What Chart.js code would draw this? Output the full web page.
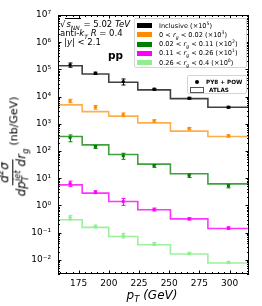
<!DOCTYPE html>
<html>
<head>
<meta charset="utf-8">
<script src="https://cdn.jsdelivr.net/npm/chart.js@4/dist/chart.umd.min.js"></script>
<style>
  body { margin: 0; background: #fff; }
  #wrap { position: relative; width: 262px; height: 306px; font-family: "DejaVu Sans", sans-serif; color: #000; }
  #c { position: absolute; left: 0; top: 0; }
  .txt { position: absolute; white-space: nowrap; }
  .info { left: 60px; font-size: 8.5px; line-height: 9px; }
  .sqrt { border-top: 0.8px solid #000; padding: 0 1px; }
  sub, sup { font-size: 70%; line-height: 0; }
  .leg { position: absolute; border: 0.8px solid #d4d4d4; border-radius: 2px; background: rgba(255,255,255,0.8); box-sizing: border-box; }
  .row { position: absolute; left: 0; display: flex; align-items: center; font-size: 6.6px; white-space: nowrap; }
  .patch { display: inline-block; width: 15px; height: 5px; margin-right: 7px; margin-left: 2px; }
  .ss { display: inline-flex; flex-direction: column; vertical-align: middle; font-size: 70%; line-height: 1; }
  #ytitle { position: absolute; left: 14px; top: 147px; transform: translate(-50%, -50%) rotate(-90deg); display: flex; align-items: center; white-space: nowrap; font-size: 11px; }
  .frac { display: inline-flex; flex-direction: column; align-items: center; font-style: italic; font-size: 12px; margin-right: 2px; }
  .frac .num { border-bottom: 0.8px solid #000; padding: 0 3px 1px; line-height: 1.05; }
  .frac .den { line-height: 1.2; padding: 0 1px; }
</style>
</head>
<body>
<div id="wrap">
  <canvas id="c" width="262" height="306"></canvas>

  <div class="txt info" style="top:20px">√<span class="sqrt"><i>s</i><sub><i>NN</i></sub></span> = 5.02 <i>TeV</i></div>
  <div class="txt info" style="top:29px">anti-<i>k</i><sub><i>T</i></sub> <i>R</i> = 0.4</div>
  <div class="txt info" style="top:38px;left:64px">|<i>y</i>| &lt; 2.1</div>
  <div class="txt" style="left:108px;top:49px;font-weight:bold;font-size:10.5px">pp</div>

  <div class="leg" id="leg1" style="left:134px;top:18px;width:113px;height:50px"></div>
  <div class="leg" style="left:187px;top:75px;width:60px;height:19px">
    <div class="row" style="top:2px;height:7px;font-weight:bold;font-size:5.7px"><span style="display:inline-block;width:4px;height:4px;border-radius:50%;background:#000;margin:0 7px 0 7px"></span>PY8 + POW</div>
    <div class="row" style="top:10px;height:7px;font-weight:bold;font-size:5.7px"><span style="display:inline-block;width:12px;height:4px;border:0.8px solid #555;margin:0 5px 0 2px"></span>ATLAS</div>
  </div>

  <div id="ytitle">
    <span class="frac">
      <span class="num">d<sup>2</sup>σ</span>
      <span class="den">dp<span class="ss"><span>jet</span><span>T</span></span> dr<sub>g</sub></span>
    </span>
    <span>(nb/GeV)</span>
  </div>
  <div class="txt" style="left:152px;top:294.5px;transform:translate(-50%,-50%);font-size:12px;font-style:italic">p<sub>T</sub> (GeV)</div>
</div>

<script>
// bin edges and centres in pT (GeV)
const ptEdges = [158, 178, 200, 224, 251, 282, 316];
const ptCenters = [168, 189, 212, 237.5, 266.5, 299];

// axis ticks
const xTicks = [175, 200, 225, 250, 275, 300];
const xMinorStep = 5;
const yTickExps = [-2, -1, 0, 1, 2, 3, 4, 5, 6, 7];
const yMin = 0.003, yMax = 1e7;

// legend / series names
const seriesNames = [
  'Inclusive (×10<sup>5</sup>)',
  '0 &lt; <i>r<sub>g</sub></i> &lt; 0.02 (×10<sup>3</sup>)',
  '0.02 &lt; <i>r<sub>g</sub></i> &lt; 0.11 (×10<sup>2</sup>)',
  '0.11 &lt; <i>r<sub>g</sub></i> &lt; 0.26 (×10<sup>1</sup>)',
  '0.26 &lt; <i>r<sub>g</sub></i> &lt; 0.4 (×10<sup>0</sup>)'
];
const seriesColors = ['#000000', '#ff8c00', '#008000', '#ff00ff', '#90ee90'];
const lineColors = ['rgba(0,0,0,0.75)', 'rgba(255,140,0,0.7)', 'rgba(0,128,0,0.75)', 'rgba(255,0,255,0.8)', 'rgba(144,238,144,0.9)'];

// ATLAS histograms (already scaled)
const atlasIncl = [1.37e5, 6.8e4, 3.37e4, 1.76e4, 8.4e3, 4.07e3];
const atlasRg1 = [4950, 2810, 1910, 1080, 536, 340];
const atlasRg2 = [340, 168, 74, 32.9, 14.5, 6.2];
const atlasRg3 = [5.7, 2.83, 1.39, 0.69, 0.32, 0.142];
const atlasRg4 = [0.296, 0.155, 0.072, 0.0357, 0.0163, 0.0076];

// PY8 + POW points (already scaled)
const pyIncl = [1.46e5, 7.2e4, 3.56e4, 1.87e4, 8.7e3, 4.07e3];
const pyRg1 = [6950, 4070, 2180, 1280, 667, 360];
const pyRg2 = [304, 142, 66, 28.5, 12.5, 5.2];
const pyRg3 = [6.4, 3.08, 1.39, 0.71, 0.32, 0.147];
const pyRg4 = [0.36, 0.168, 0.0785, 0.038, 0.0171, 0.008];

// relative errors of the points
const errIncl = [0.18, 0.10, 0.25, 0.08, 0.08, 0.08];
const errRg1 = [0.15, 0.15, 0.15, 0.10, 0.10, 0.10];
const errRg2 = [0.28, 0.12, 0.25, 0.12, 0.15, 0.15];
const errRg3 = [0.22, 0.12, 0.28, 0.12, 0.10, 0.10];
const errRg4 = [0.20, 0.12, 0.20, 0.12, 0.10, 0.10];

const atlasAll = [atlasIncl, atlasRg1, atlasRg2, atlasRg3, atlasRg4];
const pyAll = [pyIncl, pyRg1, pyRg2, pyRg3, pyRg4];
const errAll = [errIncl, errRg1, errRg2, errRg3, errRg4];

// legend
const leg1 = document.getElementById('leg1');
seriesNames.forEach((name, i) => {
  const row = document.createElement('div');
  row.className = 'row';
  row.style.top = (3 + i * 9.3) + 'px';
  row.style.height = '7px';
  row.innerHTML = `<span class="patch" style="background:${seriesColors[i]}"></span><span>${name}</span>`;
  leg1.appendChild(row);
});

const datasets = [];
atlasAll.forEach((vals, i) => {
  datasets.push({
    type: 'line',
    data: ptEdges.map((x, k) => ({ x, y: vals[Math.min(k, vals.length - 1)] })),
    stepped: 'before',
    borderColor: lineColors[i],
    borderWidth: 1.6,
    pointRadius: 0,
    fill: false,
    order: 2
  });
});
pyAll.forEach((vals, i) => {
  datasets.push({
    type: 'scatter',
    data: ptCenters.map((x, k) => ({ x, y: vals[k] })),
    backgroundColor: seriesColors[i],
    borderColor: seriesColors[i],
    pointRadius: 1.7,
    borderWidth: 0,
    errs: errAll[i],
    order: 1
  });
});

const supDigits = { '-': '⁻', '0': '⁰', '1': '¹', '2': '²', '3': '³', '4': '⁴', '5': '⁵', '6': '⁶', '7': '⁷', '8': '⁸', '9': '⁹' };
function sup(n) {
  return String(n).split('').map(c => supDigits[c]).join('');
}

// error bars for the point series
const errorBars = {
  id: 'errorBars',
  afterDatasetsDraw(chart) {
    const { ctx } = chart;
    const y = chart.scales.y, x = chart.scales.x;
    ctx.save();
    chart.data.datasets.forEach(ds => {
      if (!ds.errs) return;
      ctx.strokeStyle = ds.borderColor;
      ctx.lineWidth = 1;
      ds.data.forEach((p, k) => {
        const px = Math.round(x.getPixelForValue(p.x)) + 0.5;
        const y1 = y.getPixelForValue(p.y * (1 + ds.errs[k]));
        const y2 = y.getPixelForValue(p.y * (1 - ds.errs[k]));
        ctx.beginPath();
        ctx.moveTo(px, y1); ctx.lineTo(px, y2);
        ctx.moveTo(px - 2, y1); ctx.lineTo(px + 2, y1);
        ctx.moveTo(px - 2, y2); ctx.lineTo(px + 2, y2);
        ctx.stroke();
      });
    });
    ctx.restore();
  }
};

// frame and inward ticks on all four sides
const frameTicks = {
  id: 'frameTicks',
  afterDraw(chart) {
    const { ctx, chartArea: a } = chart;
    const x = chart.scales.x, y = chart.scales.y;
    ctx.save();
    ctx.strokeStyle = '#000';
    ctx.lineWidth = 1;
    ctx.beginPath();
    for (let v = Math.ceil(ptEdges[0] / xMinorStep) * xMinorStep; v <= ptEdges[ptEdges.length - 1]; v += xMinorStep) {
      const px = Math.round(x.getPixelForValue(v)) + 0.5;
      const len = xTicks.includes(v) ? 3.5 : 2;
      ctx.moveTo(px, a.bottom); ctx.lineTo(px, a.bottom - len);
      ctx.moveTo(px, a.top); ctx.lineTo(px, a.top + len);
    }
    for (let e = -3; e <= 7; e++) {
      for (let m = 1; m <= 9; m++) {
        const v = m * Math.pow(10, e);
        if (v < yMin || v > yMax) continue;
        const py = Math.round(y.getPixelForValue(v)) + 0.5;
        const len = m === 1 ? 3.5 : 2;
        ctx.moveTo(a.left, py); ctx.lineTo(a.left + len, py);
        ctx.moveTo(a.right, py); ctx.lineTo(a.right - len, py);
      }
    }
    ctx.stroke();
    ctx.strokeRect(a.left + 0.5, a.top + 0.5, a.right - a.left - 1, a.bottom - a.top - 1);
    ctx.restore();
  }
};

new Chart(document.getElementById('c'), {
  data: { datasets },
  options: {
    responsive: false,
    animation: false,
    layout: { padding: { left: 0, right: 13, top: 15, bottom: 0 } },
    plugins: { legend: { display: false }, tooltip: { enabled: false } },
    scales: {
      x: {
        type: 'linear',
        min: ptEdges[0],
        max: ptEdges[ptEdges.length - 1],
        grid: { display: false, drawTicks: false },
        border: { display: false },
        afterBuildTicks: s => { s.ticks = xTicks.map(v => ({ value: v })); },
        afterFit: s => { s.height = 32; },
        ticks: { font: { family: 'DejaVu Sans', size: 9 }, color: '#000', padding: 4, maxRotation: 0, autoSkip: false }
      },
      y: {
        type: 'logarithmic',
        min: yMin,
        max: yMax,
        grid: { display: false, drawTicks: false },
        border: { display: false },
        afterBuildTicks: s => { s.ticks = yTickExps.map(e => ({ value: Math.pow(10, e) })); },
        afterFit: s => { s.width = 58; },
        ticks: {
          font: { family: 'DejaVu Sans', size: 9 },
          color: '#000',
          padding: 7,
          autoSkip: false,
          callback: v => '10' + sup(Math.round(Math.log10(v)))
        }
      }
    }
  },
  plugins: [errorBars, frameTicks]
});
</script>
</body>
</html>
